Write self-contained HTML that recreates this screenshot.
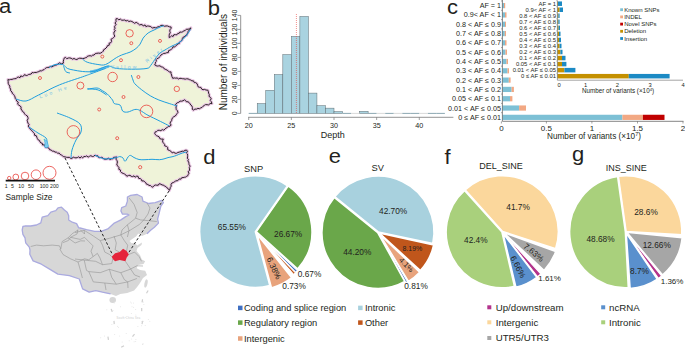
<!DOCTYPE html>
<html><head><meta charset="utf-8"><style>
html,body{margin:0;padding:0;background:#fff;width:685px;height:349px;overflow:hidden}
svg{display:block}
text{font-family:"Liberation Sans",sans-serif}
</style></head><body>
<svg width="685" height="349" viewBox="0 0 685 349">
<rect width="685" height="349" fill="#fff"/>
<polygon points="116.1,18.7 117.5,18.7 118.8,19.8 120.4,19.1 121.7,20.2 123.2,20.2 124.7,20.0 126.0,21.0 127.6,20.5 128.9,21.5 130.4,21.1 131.9,21.5 133.2,22.3 134.5,23.3 136.2,22.4 137.4,22.9 138.4,24.0 139.5,24.9 141.0,24.6 142.3,24.7 143.3,26.0 145.0,24.9 145.9,26.6 147.4,26.0 148.8,26.1 150.2,26.4 151.4,27.0 152.5,28.2 153.9,27.5 155.4,27.8 156.7,27.6 157.9,26.8 159.4,26.7 160.5,25.6 162.0,25.3 163.3,25.5 164.7,26.3 166.0,25.9 167.7,26.0 169.3,26.8 171.1,27.0 171.0,28.5 169.9,29.8 169.8,31.2 170.3,32.8 169.4,34.1 169.2,35.6 169.2,37.6 170.4,36.9 171.5,35.8 173.1,36.5 173.9,34.7 175.4,34.7 176.9,34.8 177.7,33.5 179.2,33.3 179.9,32.0 181.6,32.2 182.9,31.7 183.9,30.8 185.2,30.6 186.4,29.2 188.1,29.3 189.6,28.7 190.9,27.9 190.3,29.3 189.0,30.2 188.1,31.4 188.0,33.0 186.9,33.8 186.8,35.5 185.1,35.8 184.3,36.8 182.9,37.4 182.3,38.6 182.1,40.2 181.0,41.1 179.8,41.8 179.3,43.5 177.8,43.8 176.9,45.0 175.8,45.9 174.7,46.9 172.9,46.8 172.4,48.4 171.3,49.3 170.1,50.1 168.6,50.6 168.3,52.6 166.7,52.7 165.3,53.3 163.7,53.4 162.4,54.2 161.1,54.8 160.3,56.2 159.3,57.1 158.5,58.2 157.0,58.6 156.1,59.5 156.3,61.4 155.5,62.1 155.3,63.7 154.7,64.9 155.9,65.6 157.2,66.1 158.6,65.9 160.0,65.8 161.1,66.8 162.5,67.1 163.6,67.7 164.4,69.0 165.8,69.5 167.1,70.1 168.2,71.0 169.2,71.9 171.0,71.9 171.0,73.5 171.6,75.0 171.9,76.5 172.8,78.4 174.3,77.9 175.7,78.2 177.1,77.9 178.4,79.0 179.9,78.3 181.2,78.4 182.5,78.7 183.9,78.8 185.2,79.2 186.5,78.8 188.1,78.9 189.3,79.6 190.7,80.0 191.9,80.9 193.4,80.8 194.3,82.6 195.6,82.6 197.1,83.7 197.6,85.3 198.1,86.8 199.4,87.3 200.9,87.4 201.7,89.1 203.0,89.8 204.6,89.4 205.9,90.0 207.9,90.2 208.4,91.7 208.6,93.2 209.3,94.6 209.0,96.4 210.5,97.4 211.2,98.7 210.2,100.5 211.3,101.7 212.0,103.6 210.1,103.5 208.7,104.9 207.1,104.7 205.5,104.6 204.3,105.4 203.1,106.2 202.1,107.4 200.7,107.9 199.5,108.7 197.9,108.4 196.5,109.1 194.9,109.1 193.3,110.2 192.3,109.1 192.4,107.4 191.9,106.0 190.9,105.0 190.1,103.9 189.2,102.6 188.0,101.8 186.3,101.7 185.5,100.4 184.4,99.8 183.0,100.8 181.5,101.2 180.1,101.1 178.9,102.2 177.2,102.8 175.5,104.3 176.6,105.5 176.0,107.0 176.1,108.3 176.3,109.6 177.5,110.8 177.9,112.5 177.0,113.6 176.2,114.8 175.3,116.0 173.8,116.7 172.6,117.7 171.9,119.1 171.6,120.7 170.5,122.0 170.1,123.4 171.1,125.0 170.1,126.2 168.6,126.4 167.4,127.3 166.1,128.0 165.0,129.1 163.8,130.2 162.2,129.6 160.9,130.7 159.3,130.3 157.8,130.3 156.6,131.6 155.3,131.8 154.7,133.4 155.5,134.8 156.4,135.6 157.8,136.2 159.1,136.8 159.8,138.6 161.2,139.1 163.3,139.1 162.6,140.8 162.8,142.2 163.7,143.3 164.6,144.4 164.7,145.9 166.4,146.4 167.7,147.4 167.7,149.7 169.3,150.4 170.8,151.2 172.2,152.9 173.7,152.3 175.1,153.2 176.5,153.3 177.8,152.5 179.3,152.1 180.8,151.7 182.2,151.2 183.8,151.3 185.0,150.3 186.7,150.2 187.5,151.4 186.4,153.0 187.5,154.1 187.6,155.5 187.6,156.8 187.3,158.2 188.4,159.4 187.8,160.9 188.7,162.1 188.9,163.4 189.1,164.7 190.2,166.1 189.3,167.4 189.5,168.9 189.6,170.4 188.1,171.6 189.0,173.2 188.2,174.6 187.9,175.6 186.7,176.3 185.6,177.1 184.3,177.3 183.1,177.6 181.7,177.7 180.8,179.2 179.3,178.9 178.4,180.1 177.2,180.8 175.6,180.8 174.6,181.9 173.3,182.5 171.8,183.1 171.0,184.5 171.2,186.2 170.3,187.5 170.0,189.0 169.4,190.4 168.5,188.9 167.0,187.9 165.9,186.5 164.6,186.2 163.5,185.0 162.1,185.0 160.9,184.2 159.2,183.7 158.3,185.2 156.8,185.2 155.3,185.0 154.1,185.6 152.7,187.2 151.5,186.6 150.5,185.5 149.0,185.4 147.9,184.5 146.5,184.2 145.8,182.7 144.7,181.9 143.8,180.9 141.9,181.0 141.4,179.4 140.3,178.6 138.7,178.4 138.1,176.4 136.7,176.1 135.2,177.2 134.0,175.8 132.6,176.6 131.2,176.3 130.0,175.3 128.6,175.4 126.9,176.3 125.9,175.0 124.7,174.1 123.2,173.4 121.8,172.8 120.5,171.6 120.5,170.0 118.8,169.3 119.0,167.6 118.1,166.3 116.8,165.1 117.1,163.6 117.4,162.0 117.0,160.6 116.0,159.2 116.4,156.8 115.1,157.3 113.8,157.2 112.7,158.9 111.4,158.9 110.0,159.5 108.4,158.2 106.8,159.1 105.2,159.3 103.6,158.8 102.6,157.6 101.3,157.3 99.8,157.7 98.5,157.4 97.7,155.7 96.3,155.8 95.0,155.1 93.7,156.3 92.4,156.5 90.8,155.7 89.5,156.3 88.2,157.1 86.6,155.9 85.3,156.6 84.0,156.5 82.7,157.8 81.3,156.6 80.1,158.1 78.6,156.8 77.3,157.6 76.0,157.9 74.7,157.7 73.3,157.2 71.9,158.4 70.5,158.3 69.3,157.3 67.9,157.4 66.5,157.3 65.2,156.9 63.7,156.7 62.5,155.8 61.4,155.0 60.1,154.4 59.2,153.1 57.6,153.2 56.5,152.2 55.0,152.1 53.9,151.2 52.3,151.1 51.1,150.0 49.6,149.7 48.8,148.0 47.4,147.6 45.7,147.4 45.0,146.2 44.5,144.8 42.6,145.0 42.3,143.3 40.9,142.9 40.0,142.0 39.6,140.5 38.1,139.8 37.4,138.6 36.8,137.2 36.4,135.8 34.6,135.3 34.5,133.7 33.6,132.7 32.8,131.6 31.7,130.7 30.9,129.6 29.8,128.7 29.2,127.5 28.3,126.1 29.1,124.5 28.0,123.2 27.6,121.8 27.2,120.4 28.1,118.7 27.9,117.3 27.2,115.8 25.9,115.2 25.0,114.3 24.2,113.2 23.6,112.0 22.4,111.4 21.9,110.1 20.9,109.0 21.1,107.2 20.3,106.0 18.9,105.2 17.6,104.1 18.3,102.2 16.7,101.1 16.3,99.6 15.3,98.5 15.0,96.9 14.4,95.6 13.6,94.4 12.4,93.5 12.0,92.0 10.7,90.8 10.6,89.1 9.8,87.7 9.8,86.1 8.8,84.7 8.2,83.3 8.2,81.6 7.9,79.6 9.4,79.8 10.7,79.4 12.1,79.4 13.4,78.9 14.8,78.7 16.2,78.6 17.2,77.4 18.4,77.0 20.0,77.7 20.8,75.9 22.4,76.5 23.6,76.0 24.5,74.6 26.2,75.5 27.4,75.3 28.6,74.5 29.9,74.3 31.2,74.0 32.1,72.5 33.5,72.8 34.8,72.4 36.2,72.5 37.5,72.0 38.8,71.6 40.0,70.8 41.5,70.9 42.8,70.1 44.1,69.6 45.2,68.5 46.4,67.7 47.8,67.4 49.2,67.3 50.3,66.4 52.0,67.0 53.0,66.1 54.3,65.7 55.6,65.2 56.9,64.8 58.0,64.0 59.5,62.8 61.4,63.8 63.4,63.1 63.3,61.3 63.7,59.7 64.0,58.3 65.5,57.4 66.8,58.7 68.3,58.0 69.8,57.9 71.2,58.3 72.5,59.2 74.0,58.5 75.5,59.3 76.9,59.5 78.3,58.6 79.7,58.2 81.1,58.3 82.6,58.5 84.1,58.4 85.3,57.8 86.6,57.5 87.5,56.2 88.8,55.9 90.1,55.7 91.6,56.1 92.7,55.1 94.0,55.1 95.2,53.7 96.8,53.3 98.4,53.1 100.1,53.3 102.2,52.2 103.2,51.2 103.7,49.7 105.0,49.0 106.0,48.0 107.0,47.0 107.4,45.7 109.3,45.1 109.1,43.2 110.9,42.7 111.6,41.4 111.0,39.3 112.4,38.5 113.7,37.5 114.8,36.1 114.1,34.7 113.9,33.3 114.0,32.0 115.4,30.9 114.3,29.4 115.1,28.2 114.5,26.8 115.3,25.5 116.1,24.3 114.9,22.9 116.2,21.7 115.9,20.3" fill="#eff3d9" stroke="#e9c6e3" stroke-width="3" stroke-linejoin="round"/>
<polygon points="116.1,18.7 117.5,18.7 118.8,19.8 120.4,19.1 121.7,20.2 123.2,20.2 124.7,20.0 126.0,21.0 127.6,20.5 128.9,21.5 130.4,21.1 131.9,21.5 133.2,22.3 134.5,23.3 136.2,22.4 137.4,22.9 138.4,24.0 139.5,24.9 141.0,24.6 142.3,24.7 143.3,26.0 145.0,24.9 145.9,26.6 147.4,26.0 148.8,26.1 150.2,26.4 151.4,27.0 152.5,28.2 153.9,27.5 155.4,27.8 156.7,27.6 157.9,26.8 159.4,26.7 160.5,25.6 162.0,25.3 163.3,25.5 164.7,26.3 166.0,25.9 167.7,26.0 169.3,26.8 171.1,27.0 171.0,28.5 169.9,29.8 169.8,31.2 170.3,32.8 169.4,34.1 169.2,35.6 169.2,37.6 170.4,36.9 171.5,35.8 173.1,36.5 173.9,34.7 175.4,34.7 176.9,34.8 177.7,33.5 179.2,33.3 179.9,32.0 181.6,32.2 182.9,31.7 183.9,30.8 185.2,30.6 186.4,29.2 188.1,29.3 189.6,28.7 190.9,27.9 190.3,29.3 189.0,30.2 188.1,31.4 188.0,33.0 186.9,33.8 186.8,35.5 185.1,35.8 184.3,36.8 182.9,37.4 182.3,38.6 182.1,40.2 181.0,41.1 179.8,41.8 179.3,43.5 177.8,43.8 176.9,45.0 175.8,45.9 174.7,46.9 172.9,46.8 172.4,48.4 171.3,49.3 170.1,50.1 168.6,50.6 168.3,52.6 166.7,52.7 165.3,53.3 163.7,53.4 162.4,54.2 161.1,54.8 160.3,56.2 159.3,57.1 158.5,58.2 157.0,58.6 156.1,59.5 156.3,61.4 155.5,62.1 155.3,63.7 154.7,64.9 155.9,65.6 157.2,66.1 158.6,65.9 160.0,65.8 161.1,66.8 162.5,67.1 163.6,67.7 164.4,69.0 165.8,69.5 167.1,70.1 168.2,71.0 169.2,71.9 171.0,71.9 171.0,73.5 171.6,75.0 171.9,76.5 172.8,78.4 174.3,77.9 175.7,78.2 177.1,77.9 178.4,79.0 179.9,78.3 181.2,78.4 182.5,78.7 183.9,78.8 185.2,79.2 186.5,78.8 188.1,78.9 189.3,79.6 190.7,80.0 191.9,80.9 193.4,80.8 194.3,82.6 195.6,82.6 197.1,83.7 197.6,85.3 198.1,86.8 199.4,87.3 200.9,87.4 201.7,89.1 203.0,89.8 204.6,89.4 205.9,90.0 207.9,90.2 208.4,91.7 208.6,93.2 209.3,94.6 209.0,96.4 210.5,97.4 211.2,98.7 210.2,100.5 211.3,101.7 212.0,103.6 210.1,103.5 208.7,104.9 207.1,104.7 205.5,104.6 204.3,105.4 203.1,106.2 202.1,107.4 200.7,107.9 199.5,108.7 197.9,108.4 196.5,109.1 194.9,109.1 193.3,110.2 192.3,109.1 192.4,107.4 191.9,106.0 190.9,105.0 190.1,103.9 189.2,102.6 188.0,101.8 186.3,101.7 185.5,100.4 184.4,99.8 183.0,100.8 181.5,101.2 180.1,101.1 178.9,102.2 177.2,102.8 175.5,104.3 176.6,105.5 176.0,107.0 176.1,108.3 176.3,109.6 177.5,110.8 177.9,112.5 177.0,113.6 176.2,114.8 175.3,116.0 173.8,116.7 172.6,117.7 171.9,119.1 171.6,120.7 170.5,122.0 170.1,123.4 171.1,125.0 170.1,126.2 168.6,126.4 167.4,127.3 166.1,128.0 165.0,129.1 163.8,130.2 162.2,129.6 160.9,130.7 159.3,130.3 157.8,130.3 156.6,131.6 155.3,131.8 154.7,133.4 155.5,134.8 156.4,135.6 157.8,136.2 159.1,136.8 159.8,138.6 161.2,139.1 163.3,139.1 162.6,140.8 162.8,142.2 163.7,143.3 164.6,144.4 164.7,145.9 166.4,146.4 167.7,147.4 167.7,149.7 169.3,150.4 170.8,151.2 172.2,152.9 173.7,152.3 175.1,153.2 176.5,153.3 177.8,152.5 179.3,152.1 180.8,151.7 182.2,151.2 183.8,151.3 185.0,150.3 186.7,150.2 187.5,151.4 186.4,153.0 187.5,154.1 187.6,155.5 187.6,156.8 187.3,158.2 188.4,159.4 187.8,160.9 188.7,162.1 188.9,163.4 189.1,164.7 190.2,166.1 189.3,167.4 189.5,168.9 189.6,170.4 188.1,171.6 189.0,173.2 188.2,174.6 187.9,175.6 186.7,176.3 185.6,177.1 184.3,177.3 183.1,177.6 181.7,177.7 180.8,179.2 179.3,178.9 178.4,180.1 177.2,180.8 175.6,180.8 174.6,181.9 173.3,182.5 171.8,183.1 171.0,184.5 171.2,186.2 170.3,187.5 170.0,189.0 169.4,190.4 168.5,188.9 167.0,187.9 165.9,186.5 164.6,186.2 163.5,185.0 162.1,185.0 160.9,184.2 159.2,183.7 158.3,185.2 156.8,185.2 155.3,185.0 154.1,185.6 152.7,187.2 151.5,186.6 150.5,185.5 149.0,185.4 147.9,184.5 146.5,184.2 145.8,182.7 144.7,181.9 143.8,180.9 141.9,181.0 141.4,179.4 140.3,178.6 138.7,178.4 138.1,176.4 136.7,176.1 135.2,177.2 134.0,175.8 132.6,176.6 131.2,176.3 130.0,175.3 128.6,175.4 126.9,176.3 125.9,175.0 124.7,174.1 123.2,173.4 121.8,172.8 120.5,171.6 120.5,170.0 118.8,169.3 119.0,167.6 118.1,166.3 116.8,165.1 117.1,163.6 117.4,162.0 117.0,160.6 116.0,159.2 116.4,156.8 115.1,157.3 113.8,157.2 112.7,158.9 111.4,158.9 110.0,159.5 108.4,158.2 106.8,159.1 105.2,159.3 103.6,158.8 102.6,157.6 101.3,157.3 99.8,157.7 98.5,157.4 97.7,155.7 96.3,155.8 95.0,155.1 93.7,156.3 92.4,156.5 90.8,155.7 89.5,156.3 88.2,157.1 86.6,155.9 85.3,156.6 84.0,156.5 82.7,157.8 81.3,156.6 80.1,158.1 78.6,156.8 77.3,157.6 76.0,157.9 74.7,157.7 73.3,157.2 71.9,158.4 70.5,158.3 69.3,157.3 67.9,157.4 66.5,157.3 65.2,156.9 63.7,156.7 62.5,155.8 61.4,155.0 60.1,154.4 59.2,153.1 57.6,153.2 56.5,152.2 55.0,152.1 53.9,151.2 52.3,151.1 51.1,150.0 49.6,149.7 48.8,148.0 47.4,147.6 45.7,147.4 45.0,146.2 44.5,144.8 42.6,145.0 42.3,143.3 40.9,142.9 40.0,142.0 39.6,140.5 38.1,139.8 37.4,138.6 36.8,137.2 36.4,135.8 34.6,135.3 34.5,133.7 33.6,132.7 32.8,131.6 31.7,130.7 30.9,129.6 29.8,128.7 29.2,127.5 28.3,126.1 29.1,124.5 28.0,123.2 27.6,121.8 27.2,120.4 28.1,118.7 27.9,117.3 27.2,115.8 25.9,115.2 25.0,114.3 24.2,113.2 23.6,112.0 22.4,111.4 21.9,110.1 20.9,109.0 21.1,107.2 20.3,106.0 18.9,105.2 17.6,104.1 18.3,102.2 16.7,101.1 16.3,99.6 15.3,98.5 15.0,96.9 14.4,95.6 13.6,94.4 12.4,93.5 12.0,92.0 10.7,90.8 10.6,89.1 9.8,87.7 9.8,86.1 8.8,84.7 8.2,83.3 8.2,81.6 7.9,79.6 9.4,79.8 10.7,79.4 12.1,79.4 13.4,78.9 14.8,78.7 16.2,78.6 17.2,77.4 18.4,77.0 20.0,77.7 20.8,75.9 22.4,76.5 23.6,76.0 24.5,74.6 26.2,75.5 27.4,75.3 28.6,74.5 29.9,74.3 31.2,74.0 32.1,72.5 33.5,72.8 34.8,72.4 36.2,72.5 37.5,72.0 38.8,71.6 40.0,70.8 41.5,70.9 42.8,70.1 44.1,69.6 45.2,68.5 46.4,67.7 47.8,67.4 49.2,67.3 50.3,66.4 52.0,67.0 53.0,66.1 54.3,65.7 55.6,65.2 56.9,64.8 58.0,64.0 59.5,62.8 61.4,63.8 63.4,63.1 63.3,61.3 63.7,59.7 64.0,58.3 65.5,57.4 66.8,58.7 68.3,58.0 69.8,57.9 71.2,58.3 72.5,59.2 74.0,58.5 75.5,59.3 76.9,59.5 78.3,58.6 79.7,58.2 81.1,58.3 82.6,58.5 84.1,58.4 85.3,57.8 86.6,57.5 87.5,56.2 88.8,55.9 90.1,55.7 91.6,56.1 92.7,55.1 94.0,55.1 95.2,53.7 96.8,53.3 98.4,53.1 100.1,53.3 102.2,52.2 103.2,51.2 103.7,49.7 105.0,49.0 106.0,48.0 107.0,47.0 107.4,45.7 109.3,45.1 109.1,43.2 110.9,42.7 111.6,41.4 111.0,39.3 112.4,38.5 113.7,37.5 114.8,36.1 114.1,34.7 113.9,33.3 114.0,32.0 115.4,30.9 114.3,29.4 115.1,28.2 114.5,26.8 115.3,25.5 116.1,24.3 114.9,22.9 116.2,21.7 115.9,20.3" fill="none" stroke="#2b2427" stroke-width="1.0" stroke-linejoin="miter"/>
<path d="M90,71.6 C96,71.2 102,68.2 109,66.3" fill="none" stroke="#5db8e6" stroke-width="2.4"/>
<path d="M49.0,67.6 C50.0,67.1 52.7,65.1 55.0,64.6 C57.3,64.1 60.7,64.0 62.7,64.6 C64.8,65.2 65.5,67.5 67.3,68.4 C69.1,69.3 70.9,69.5 73.4,70.0 C76.0,70.5 79.3,71.2 82.6,71.5 C85.9,71.8 90.2,72.0 93.3,71.5 C96.4,71.0 98.5,69.3 101.0,68.4 C103.5,67.5 106.0,66.0 108.6,66.0 C111.1,66.0 112.5,67.9 116.3,68.4 C120.1,68.9 126.5,69.2 131.6,69.2 C136.7,69.2 143.8,69.1 147.0,68.4 C150.2,67.8 149.3,67.1 150.8,65.3 C152.3,63.5 154.5,59.8 156.0,57.7 C157.5,55.7 158.5,54.3 160.0,53.0 C161.5,51.7 163.2,51.1 165.0,50.0 C166.8,48.9 168.5,47.8 171.0,46.5 C173.5,45.2 177.5,43.8 180.0,42.0 C182.5,40.2 184.2,38.1 186.0,36.0 C187.8,33.9 189.8,30.6 190.5,29.5" fill="none" stroke="#1f9fdf" stroke-width="1.0" stroke-linejoin="round"/>
<path d="M82.6,59.2 C83.4,59.7 84.7,61.3 87.2,62.2 C89.8,63.1 94.8,64.1 97.9,64.5 C101.0,64.9 102.5,65.6 105.6,64.5 C108.7,63.4 113.4,59.4 116.3,57.7 C119.2,56.0 120.7,55.4 123.0,54.5 C125.3,53.6 127.9,53.1 130.1,52.1 C132.3,51.1 134.3,49.8 136.0,48.5 C137.7,47.2 138.9,45.8 140.1,44.1 C141.3,42.4 141.8,40.0 143.1,38.1 C144.4,36.2 146.3,34.4 148.1,33.0 C149.9,31.6 152.1,31.0 154.1,30.0 C156.1,29.0 158.4,27.7 160.1,27.0 C161.8,26.3 163.3,26.0 164.0,25.8" fill="none" stroke="#1f9fdf" stroke-width="1.0" stroke-linejoin="round"/>
<path d="M16.0,99.0 C17.7,99.3 22.2,101.7 26.0,101.0 C29.8,100.3 33.0,97.7 38.6,95.0 C44.2,92.3 52.3,87.8 59.6,84.8 C66.9,81.8 77.0,78.8 82.6,76.8 C88.2,74.8 89.5,74.3 93.3,72.9 C97.1,71.5 103.5,69.2 105.6,68.4" fill="none" stroke="#1f9fdf" stroke-width="1.0" stroke-linejoin="round"/>
<path d="M63.6,66.2 C64.0,67.1 64.7,70.5 65.8,71.6 C66.9,72.7 69.3,72.8 70.0,73.0" fill="none" stroke="#1f9fdf" stroke-width="1.0" stroke-linejoin="round"/>
<path d="M87.3,88.8 C89.1,89.0 94.8,88.9 98.0,89.9 C101.2,90.9 105.2,94.2 106.6,95.0" fill="none" stroke="#1f9fdf" stroke-width="1.0" stroke-linejoin="round"/>
<path d="M131.3,75.0 C131.6,75.8 132.4,78.5 133.0,80.0 C133.6,81.5 133.4,82.1 134.8,83.7 C136.2,85.3 139.1,87.8 141.7,89.8 C144.3,91.8 147.4,94.1 150.3,95.8 C153.2,97.5 155.8,98.7 158.9,100.0 C162.1,101.3 166.2,102.5 169.2,103.5 C172.2,104.5 175.7,105.6 177.0,106.0" fill="none" stroke="#1f9fdf" stroke-width="1.0" stroke-linejoin="round"/>
<path d="M87.6,89.2 C89.2,89.0 94.6,87.8 97.0,88.0 C99.4,88.2 100.5,89.6 102.2,90.6 C103.9,91.6 105.6,92.4 107.3,94.0 C109.0,95.6 111.3,98.4 112.5,100.0 C113.7,101.6 112.9,102.6 114.2,103.5 C115.5,104.4 118.8,103.9 120.2,105.2 C121.6,106.5 121.5,110.1 122.8,111.2 C124.1,112.3 126.0,112.3 128.0,112.0 C130.0,111.7 132.8,109.8 134.8,109.5 C136.8,109.2 138.0,109.5 140.0,110.4 C142.0,111.3 144.6,113.4 146.9,114.7 C149.2,116.0 151.4,117.0 153.7,118.1 C156.0,119.2 158.0,120.2 160.6,121.5 C163.2,122.8 167.8,125.1 169.2,125.8" fill="none" stroke="#1f9fdf" stroke-width="1.0" stroke-linejoin="round"/>
<path d="M57.0,113.0 C59.2,113.8 66.2,116.2 70.0,118.0 C73.8,119.8 78.2,121.7 80.0,124.0 C81.8,126.3 81.7,129.3 81.0,132.0 C80.3,134.7 77.5,137.0 76.0,140.0 C74.5,143.0 72.8,147.0 72.0,150.0 C71.2,153.0 71.2,156.7 71.0,158.0" fill="none" stroke="#1f9fdf" stroke-width="1.0" stroke-linejoin="round"/>
<path d="M29.0,127.0 C30.5,128.0 35.2,131.2 38.0,133.0 C40.8,134.8 44.5,136.3 46.0,138.0 C47.5,139.7 46.7,141.5 47.0,143.0 C47.3,144.5 47.8,146.3 48.0,147.0" fill="none" stroke="#1f9fdf" stroke-width="1.0" stroke-linejoin="round"/>
<path d="M95.0,155.4 C96.4,155.9 101.1,158.1 103.6,158.7 C106.1,159.2 107.8,158.9 110.0,158.7 C112.2,158.5 114.8,157.9 116.5,157.6 C118.2,157.2 118.9,156.5 120.0,156.6 C121.1,156.7 122.2,157.3 123.0,158.0 C123.8,158.7 124.0,160.6 124.5,161.0 C125.0,161.4 125.4,161.2 126.0,160.5 C126.6,159.8 127.3,157.8 128.0,157.0 C128.7,156.2 129.4,155.3 130.4,155.4 C131.4,155.5 132.6,156.8 134.0,157.5 C135.4,158.2 137.2,159.1 139.0,159.5 C140.8,159.9 142.8,159.7 145.0,159.7 C147.2,159.7 149.6,159.3 152.0,159.3 C154.4,159.3 157.4,159.8 159.4,159.7 C161.4,159.6 162.6,159.2 164.0,158.9 C165.4,158.6 166.7,157.9 168.0,157.6 C169.3,157.2 170.6,157.2 172.0,156.8 C173.4,156.4 175.1,156.0 176.6,155.4 C178.1,154.8 179.3,154.1 181.0,153.5 C182.7,152.9 185.7,152.2 186.6,152.0" fill="none" stroke="#1f9fdf" stroke-width="1.0" stroke-linejoin="round"/>
<text x="111" y="68.5" font-family="Liberation Sans, sans-serif" font-size="5" letter-spacing="2.2" fill="#7cc4e6">Yellow</text>
<text transform="translate(147,63) rotate(-38)" font-family="Liberation Sans, sans-serif" font-size="5" letter-spacing="2.2" fill="#7cc4e6">River</text>
<text transform="translate(40,98.5) rotate(-19)" font-family="Liberation Sans, sans-serif" font-size="5" letter-spacing="2.5" fill="#7cc4e6">Luo He</text>
<path d="M44,139 L47,141 L48.5,146 L47,148 L44.5,147 L45,143 Z" fill="#7fcbee" stroke="#22a0dd" stroke-width="0.5"/>
<circle cx="129.6" cy="33.3" r="3.7" fill="none" stroke="#e8413c" stroke-width="0.8"/>
<circle cx="131.3" cy="43.2" r="1.5" fill="none" stroke="#e8413c" stroke-width="0.8"/>
<circle cx="160" cy="40.9" r="1.5" fill="none" stroke="#e8413c" stroke-width="0.8"/>
<circle cx="102.3" cy="56.6" r="1.5" fill="none" stroke="#e8413c" stroke-width="0.8"/>
<circle cx="121" cy="60.2" r="1.5" fill="none" stroke="#e8413c" stroke-width="0.8"/>
<circle cx="112.6" cy="77" r="4.7" fill="none" stroke="#e8413c" stroke-width="0.8"/>
<circle cx="80.4" cy="85.6" r="3.5" fill="none" stroke="#e8413c" stroke-width="0.8"/>
<circle cx="138.4" cy="77" r="1.5" fill="none" stroke="#e8413c" stroke-width="0.8"/>
<circle cx="40" cy="78" r="1.5" fill="none" stroke="#e8413c" stroke-width="0.8"/>
<circle cx="123.5" cy="97" r="1.5" fill="none" stroke="#e8413c" stroke-width="0.8"/>
<circle cx="99.2" cy="109.5" r="1.5" fill="none" stroke="#e8413c" stroke-width="0.8"/>
<circle cx="146.5" cy="111.4" r="6.3" fill="none" stroke="#e8413c" stroke-width="0.8"/>
<circle cx="73.4" cy="131.9" r="6.3" fill="none" stroke="#e8413c" stroke-width="0.8"/>
<circle cx="117.2" cy="138.2" r="1.5" fill="none" stroke="#e8413c" stroke-width="0.8"/>
<circle cx="140.2" cy="167.2" r="1.6" fill="none" stroke="#e8413c" stroke-width="0.8"/>
<circle cx="176.8" cy="88.9" r="2.7" fill="none" stroke="#e8413c" stroke-width="0.8"/>
<circle cx="9.2" cy="178.1" r="1.7" fill="none" stroke="#e8413c" stroke-width="0.8"/>
<circle cx="15.8" cy="177" r="2.9" fill="none" stroke="#e8413c" stroke-width="0.8"/>
<circle cx="25" cy="176" r="3.8" fill="none" stroke="#e8413c" stroke-width="0.8"/>
<circle cx="36" cy="174.7" r="4.8" fill="none" stroke="#e8413c" stroke-width="0.8"/>
<circle cx="49.5" cy="172.8" r="6.5" fill="none" stroke="#e8413c" stroke-width="0.8"/>
<line x1="5.7" y1="180.6" x2="55" y2="180.6" stroke="#111" stroke-width="1.7"/>
<text x="6.3" y="188" font-family="Liberation Sans, sans-serif" font-size="5.2" text-anchor="middle" fill="#231f20">1</text>
<text x="12.4" y="188" font-family="Liberation Sans, sans-serif" font-size="5.2" text-anchor="middle" fill="#231f20">5</text>
<text x="21.2" y="188" font-family="Liberation Sans, sans-serif" font-size="5.2" text-anchor="middle" fill="#231f20">10</text>
<text x="31" y="188" font-family="Liberation Sans, sans-serif" font-size="5.2" text-anchor="middle" fill="#231f20">50</text>
<text x="44" y="188" font-family="Liberation Sans, sans-serif" font-size="5.2" text-anchor="middle" fill="#231f20">100</text>
<text x="54.4" y="188" font-family="Liberation Sans, sans-serif" font-size="5.2" text-anchor="middle" fill="#231f20">200</text>
<text x="5.5" y="200" font-family="Liberation Sans, sans-serif" font-size="8.4" fill="#231f20">Sample Size</text>
<polygon points="22.2,230.0 22.9,226.5 25.7,225.8 30.7,226.0 36.5,225.0 40.8,222.9 42.2,217.2 47.9,215.7 50.8,212.2 55.8,210.7 58.0,207.9 61.5,207.2 64.4,210.0 67.2,212.2 68.7,215.7 68.7,220.0 72.3,222.2 76.6,223.6 78.7,227.9 80.0,228.0 86.5,229.7 94.7,231.3 101.2,231.3 107.8,228.9 114.3,223.1 120.9,219.9 125.8,216.6 129.0,215.0 127.4,214.2 122.5,214.2 120.9,210.9 121.7,207.6 125.8,206.0 127.4,201.1 127.4,197.0 130.7,195.4 137.2,194.5 142.1,197.0 142.9,201.1 148.7,203.5 155.2,202.7 161.7,200.3 163.4,202.7 160.9,206.0 159.3,212.5 157.6,219.1 158.5,223.1 154.4,227.2 150.3,230.5 147.0,233.8 142.0,236.0 138.3,233.6 136.0,236.5 132.6,238.8 129.5,241.0 131.5,243.3 134.9,242.8 137.2,245.6 139.5,243.9 142.0,242.5 141.5,245.0 137.5,248.0 136.5,251.0 140.1,255.3 141.8,259.6 145.2,261.3 143.5,263.9 138.0,265.0 136.6,268.2 140.1,269.9 145.2,270.8 147.0,275.1 143.0,278.0 140.0,283.0 137.5,286.5 134.1,290.5 127.2,293.1 120.3,294.0 116.0,296.0 110.6,293.9 102.4,292.2 95.8,290.6 89.2,292.2 82.6,288.9 79.3,279.0 69.4,275.7 57.9,274.1 49.6,269.1 41.4,264.2 33.1,260.9 29.8,254.3 30.0,250.0 29.3,247.2 25.7,242.9 25.0,237.9 22.9,234.4" fill="#d7d7d7"/>
<polyline points="110.6,293.9 102.4,292.2 95.8,290.6 89.2,292.2 82.6,288.9 79.3,279.0 69.4,275.7 57.9,274.1 49.6,269.1 41.4,264.2 33.1,260.9 29.8,254.3 30.0,250.0 29.3,247.2 25.7,242.9 25.0,237.9 22.9,234.4 22.2,230.0 22.9,226.5 25.7,225.8 30.7,226.0 36.5,225.0 40.8,222.9 42.2,217.2 47.9,215.7 50.8,212.2 55.8,210.7 58.0,207.9 61.5,207.2 64.4,210.0 67.2,212.2 68.7,215.7 68.7,220.0 72.3,222.2 76.6,223.6 78.7,227.9 80.0,228.0 86.5,229.7 94.7,231.3 101.2,231.3 107.8,228.9 114.3,223.1 120.9,219.9 125.8,216.6 129.0,215.0 127.4,214.2 122.5,214.2 120.9,210.9 121.7,207.6 125.8,206.0 127.4,201.1 127.4,197.0 130.7,195.4 137.2,194.5 142.1,197.0 142.9,201.1 148.7,203.5 155.2,202.7 161.7,200.3 163.4,202.7 160.9,206.0 159.3,212.5 157.6,219.1 158.5,223.1 154.4,227.2 150.3,230.5 147.0,233.8" fill="none" stroke="#aaaadf" stroke-width="1.3" stroke-linejoin="round"/>
<rect x="141.7" y="299.2" width="1.2" height="3.2" fill="#cfcfcf" transform="rotate(8,142.3,300.8)"/>
<rect x="141.1" y="308.0" width="1.2" height="3.2" fill="#cfcfcf" transform="rotate(0,141.7,309.6)"/>
<rect x="141.7" y="320.9" width="1.2" height="3.2" fill="#cfcfcf" transform="rotate(10,142.3,322.5)"/>
<rect x="132.9" y="333.7" width="1.2" height="3.2" fill="#cfcfcf" transform="rotate(40,133.5,335.3)"/>
<rect x="122.0" y="344.9" width="1.2" height="3.2" fill="#cfcfcf" transform="rotate(60,122.6,346.5)"/>
<rect x="107.6" y="336.7" width="1.2" height="3.2" fill="#cfcfcf" transform="rotate(-10,108.2,338.3)"/>
<rect x="113.5" y="320.9" width="1.2" height="3.2" fill="#cfcfcf" transform="rotate(-5,114.1,322.5)"/>
<rect x="111.1" y="308.8" width="1.2" height="3.2" fill="#cfcfcf" transform="rotate(-20,111.7,310.4)"/>
<rect x="146.7" y="290.3" width="1.2" height="3.2" fill="#cfcfcf" transform="rotate(30,147.3,291.9)"/>
<text x="128.5" y="318.5" font-family="Liberation Sans, sans-serif" font-size="2.6" text-anchor="middle" fill="#c8c8c8" letter-spacing="0.3">South China Sea</text>
<polyline points="30.7,246.5 36.5,245.1 43.6,245.8 52.2,245.1 59.4,245.8 60.8,248.7" fill="none" stroke="#8e8e8e" stroke-width="0.55"/>
<polyline points="60.8,248.7 62.2,241.5 68.0,237.9 72.3,233.6 78.0,230.0" fill="none" stroke="#8e8e8e" stroke-width="0.55"/>
<polyline points="68.0,237.9 75.1,243.0 80.8,240.8 85.0,241.0" fill="none" stroke="#8e8e8e" stroke-width="0.55"/>
<polyline points="60.8,248.7 59.8,249.0 63.0,254.5 70.5,258.8 78.0,262.0 84.5,258.8 88.8,259.8 93.1,256.6 97.4,253.4" fill="none" stroke="#8e8e8e" stroke-width="0.55"/>
<polyline points="63.0,242.6 68.4,240.5 70.5,237.3 77.0,234.0 78.0,229.7" fill="none" stroke="#8e8e8e" stroke-width="0.55"/>
<polyline points="70.5,237.3 80.2,239.4 84.5,237.3 88.8,241.6 93.1,245.9 91.0,251.2 93.1,256.6" fill="none" stroke="#8e8e8e" stroke-width="0.55"/>
<polyline points="80.2,229.7 84.5,234.0 84.2,230.3" fill="none" stroke="#8e8e8e" stroke-width="0.55"/>
<polyline points="78.0,262.0 80.2,269.5 82.4,278.0" fill="none" stroke="#8e8e8e" stroke-width="0.55"/>
<polyline points="75.0,232.6 84.2,230.3 93.3,236.0 100.2,240.6 109.4,238.3 120.8,234.9 130.0,230.3 139.2,224.6 143.8,220.0 148.0,214.0 150.0,208.0 147.0,203.0" fill="none" stroke="#8e8e8e" stroke-width="0.55"/>
<polyline points="100.2,240.6 102.5,245.2 104.8,252.1 109.4,254.4 111.7,256.7" fill="none" stroke="#8e8e8e" stroke-width="0.55"/>
<polyline points="114.0,236.0 116.3,243.0 115.1,249.8 119.7,252.1" fill="none" stroke="#8e8e8e" stroke-width="0.55"/>
<polyline points="120.8,234.9 124.3,240.6 127.7,245.2 126.6,250.9" fill="none" stroke="#8e8e8e" stroke-width="0.55"/>
<polyline points="128.9,254.4 134.6,252.1 139.2,256.7 141.5,261.3" fill="none" stroke="#8e8e8e" stroke-width="0.55"/>
<polyline points="75.0,259.0 84.2,260.1 95.6,261.3 102.5,264.7 111.7,263.6 112.8,259.0" fill="none" stroke="#8e8e8e" stroke-width="0.55"/>
<polyline points="97.4,253.4 100.0,258.0 102.5,264.7" fill="none" stroke="#8e8e8e" stroke-width="0.55"/>
<polyline points="100.2,272.7 109.4,269.3 120.8,272.7 130.0,269.3 136.9,265.8 143.0,266.0" fill="none" stroke="#8e8e8e" stroke-width="0.55"/>
<polyline points="125.4,261.3 130.0,268.1 134.6,275.0 140.0,277.0" fill="none" stroke="#8e8e8e" stroke-width="0.55"/>
<polyline points="93.3,281.9 104.8,283.0 116.3,284.2 127.7,281.9 136.9,278.5" fill="none" stroke="#8e8e8e" stroke-width="0.55"/>
<polyline points="88.8,271.6 93.3,281.9" fill="none" stroke="#8e8e8e" stroke-width="0.55"/>
<polyline points="109.4,269.3 111.7,277.3 116.3,284.2" fill="none" stroke="#8e8e8e" stroke-width="0.55"/>
<polyline points="120.8,272.7 124.3,279.6 127.7,281.9" fill="none" stroke="#8e8e8e" stroke-width="0.55"/>
<polyline points="84.2,260.1 86.5,270.4 88.8,271.6 100.2,272.7" fill="none" stroke="#8e8e8e" stroke-width="0.55"/>
<polyline points="104.8,283.0 106.0,290.0" fill="none" stroke="#8e8e8e" stroke-width="0.55"/>
<polyline points="127.7,281.9 128.0,288.0" fill="none" stroke="#8e8e8e" stroke-width="0.55"/>
<polyline points="129.0,197.8 134.0,204.3 137.2,212.5 135.6,218.2 140.5,219.9 148.7,220.7 156.8,221.5" fill="none" stroke="#8e8e8e" stroke-width="0.55"/>
<polyline points="135.6,218.2 131.0,222.0 127.4,224.8 129.0,230.5 127.4,237.0" fill="none" stroke="#8e8e8e" stroke-width="0.55"/>
<polyline points="120.8,234.9 122.0,230.0 127.4,224.8" fill="none" stroke="#8e8e8e" stroke-width="0.55"/>
<polygon points="111.7,256.7 115.1,253.2 119.7,252.1 123.1,248.7 126.6,250.9 128.9,254.4 126.6,257.8 125.4,261.3 119.7,260.1 115.1,261.3 112.8,259.0" fill="#e5243b"/>
<ellipse cx="112.7" cy="300" rx="3.3" ry="2.9" fill="#d7d7d7"/>
<ellipse cx="146" cy="283.5" rx="1.5" ry="4.2" fill="#d7d7d7" transform="rotate(12,146,283.5)"/>
<circle cx="111.9" cy="324.5" r="0.5" fill="#e4e4e4"/>
<circle cx="118.5" cy="327.2" r="0.5" fill="#e4e4e4"/>
<circle cx="131.3" cy="302.9" r="0.5" fill="#e4e4e4"/>
<circle cx="100.7" cy="337.7" r="0.5" fill="#e4e4e4"/>
<circle cx="113.0" cy="310.5" r="0.5" fill="#e4e4e4"/>
<circle cx="149.8" cy="321.2" r="0.5" fill="#e4e4e4"/>
<circle cx="141.8" cy="321.4" r="0.5" fill="#e4e4e4"/>
<circle cx="132.0" cy="306.8" r="0.5" fill="#e4e4e4"/>
<circle cx="131.7" cy="339.1" r="0.5" fill="#e4e4e4"/>
<circle cx="126.2" cy="333.4" r="0.5" fill="#e4e4e4"/>
<circle cx="133.6" cy="302.9" r="0.5" fill="#e4e4e4"/>
<circle cx="137.9" cy="326.6" r="0.5" fill="#e4e4e4"/>
<circle cx="115.1" cy="301.4" r="0.5" fill="#e4e4e4"/>
<circle cx="143.3" cy="321.3" r="0.5" fill="#e4e4e4"/>
<circle cx="135.9" cy="339.5" r="0.5" fill="#e4e4e4"/>
<circle cx="135.7" cy="341.4" r="0.5" fill="#e4e4e4"/>
<circle cx="119.7" cy="336.0" r="0.5" fill="#e4e4e4"/>
<circle cx="122.2" cy="342.1" r="0.5" fill="#e4e4e4"/>
<circle cx="143.9" cy="304.4" r="0.5" fill="#e4e4e4"/>
<circle cx="106.8" cy="309.8" r="0.5" fill="#e4e4e4"/>
<circle cx="148.3" cy="319.6" r="0.5" fill="#e4e4e4"/>
<circle cx="131.3" cy="313.5" r="0.5" fill="#e4e4e4"/>
<circle cx="125.4" cy="317.4" r="0.5" fill="#e4e4e4"/>
<circle cx="117.5" cy="326.3" r="0.5" fill="#e4e4e4"/>
<circle cx="129.2" cy="340.7" r="0.5" fill="#e4e4e4"/>
<circle cx="134.1" cy="341.8" r="0.5" fill="#e4e4e4"/>
<circle cx="142.8" cy="344.6" r="0.5" fill="#e4e4e4"/>
<circle cx="133.6" cy="307.3" r="0.5" fill="#e4e4e4"/>
<circle cx="143.0" cy="343.4" r="0.5" fill="#e4e4e4"/>
<circle cx="145.2" cy="325.6" r="0.5" fill="#e4e4e4"/>
<circle cx="135.7" cy="309.5" r="0.5" fill="#e4e4e4"/>
<circle cx="141.6" cy="325.8" r="0.5" fill="#e4e4e4"/>
<circle cx="114.2" cy="302.9" r="0.5" fill="#e4e4e4"/>
<circle cx="142.7" cy="344.5" r="0.5" fill="#e4e4e4"/>
<circle cx="104.4" cy="336.0" r="0.5" fill="#e4e4e4"/>
<circle cx="120.5" cy="306.8" r="0.5" fill="#e4e4e4"/>
<circle cx="114.7" cy="334.6" r="0.5" fill="#e4e4e4"/>
<circle cx="143.6" cy="302.0" r="0.5" fill="#e4e4e4"/>
<circle cx="130.7" cy="302.0" r="0.5" fill="#e4e4e4"/>
<circle cx="135.9" cy="314.9" r="0.5" fill="#e4e4e4"/>
<line x1="65" y1="158" x2="112.3" y2="254.3" stroke="#222" stroke-width="1.0" stroke-dasharray="2.6 2.1"/>
<line x1="169" y1="191" x2="128.7" y2="252.6" stroke="#222" stroke-width="1.0" stroke-dasharray="2.6 2.1"/>
<rect x="257.23" y="103.60" width="8.53" height="9.80" fill="#a9d3e0" stroke="#5d6b70" stroke-width="0.5"/>
<rect x="265.76" y="90.30" width="8.53" height="23.10" fill="#a9d3e0" stroke="#5d6b70" stroke-width="0.5"/>
<rect x="274.29" y="74.55" width="8.53" height="38.85" fill="#a9d3e0" stroke="#5d6b70" stroke-width="0.5"/>
<rect x="282.82" y="54.60" width="8.53" height="58.80" fill="#a9d3e0" stroke="#5d6b70" stroke-width="0.5"/>
<rect x="291.35" y="36.40" width="8.53" height="77.00" fill="#a9d3e0" stroke="#5d6b70" stroke-width="0.5"/>
<rect x="299.88" y="16.45" width="8.53" height="96.95" fill="#a9d3e0" stroke="#5d6b70" stroke-width="0.5"/>
<rect x="308.41" y="93.10" width="8.53" height="20.30" fill="#a9d3e0" stroke="#5d6b70" stroke-width="0.5"/>
<rect x="316.94" y="105.70" width="8.53" height="7.70" fill="#a9d3e0" stroke="#5d6b70" stroke-width="0.5"/>
<rect x="325.47" y="108.15" width="8.53" height="5.25" fill="#a9d3e0" stroke="#5d6b70" stroke-width="0.5"/>
<rect x="334.00" y="111.65" width="8.53" height="1.75" fill="#a9d3e0" stroke="#5d6b70" stroke-width="0.5"/>
<rect x="359.59" y="111.30" width="8.53" height="2.10" fill="#a9d3e0" stroke="#5d6b70" stroke-width="0.5"/>
<line x1="248.70" y1="113.4" x2="257.23" y2="113.4" stroke="#5a8391" stroke-width="0.7"/>
<line x1="342.53" y1="113.4" x2="351.06" y2="113.4" stroke="#5a8391" stroke-width="0.7"/>
<line x1="368.12" y1="113.4" x2="376.65" y2="113.4" stroke="#5a8391" stroke-width="0.7"/>
<line x1="385.18" y1="113.4" x2="393.71" y2="113.4" stroke="#5a8391" stroke-width="0.7"/>
<line x1="402.24" y1="113.4" x2="410.77" y2="113.4" stroke="#5a8391" stroke-width="0.7"/>
<line x1="410.77" y1="113.4" x2="419.30" y2="113.4" stroke="#5a8391" stroke-width="0.7"/>
<line x1="427.83" y1="113.4" x2="436.36" y2="113.4" stroke="#5a8391" stroke-width="0.7"/>
<line x1="436.36" y1="113.4" x2="444.89" y2="113.4" stroke="#5a8391" stroke-width="0.7"/>
<line x1="351.06" y1="113.4" x2="359.59" y2="113.4" stroke="#c9c9c9" stroke-width="0.7"/>
<line x1="376.65" y1="113.4" x2="385.18" y2="113.4" stroke="#c9c9c9" stroke-width="0.7"/>
<line x1="393.71" y1="113.4" x2="402.24" y2="113.4" stroke="#c9c9c9" stroke-width="0.7"/>
<line x1="419.30" y1="113.4" x2="427.83" y2="113.4" stroke="#c9c9c9" stroke-width="0.7"/>
<line x1="296.4" y1="14" x2="296.4" y2="113.4" stroke="#e8413c" stroke-width="0.6" stroke-dasharray="1 1"/>
<line x1="240.7" y1="15.4" x2="240.7" y2="113.4" stroke="#777" stroke-width="0.8"/>
<line x1="237.5" y1="113.4" x2="240.7" y2="113.4" stroke="#777" stroke-width="0.7"/>
<text transform="translate(236.5,113.4) rotate(-90)" font-family="Liberation Sans, sans-serif" font-size="7" text-anchor="middle" fill="#231f20">0</text>
<line x1="237.5" y1="99.4" x2="240.7" y2="99.4" stroke="#777" stroke-width="0.7"/>
<text transform="translate(236.5,99.4) rotate(-90)" font-family="Liberation Sans, sans-serif" font-size="7" text-anchor="middle" fill="#231f20">20</text>
<line x1="237.5" y1="85.4" x2="240.7" y2="85.4" stroke="#777" stroke-width="0.7"/>
<text transform="translate(236.5,85.4) rotate(-90)" font-family="Liberation Sans, sans-serif" font-size="7" text-anchor="middle" fill="#231f20">40</text>
<line x1="237.5" y1="71.4" x2="240.7" y2="71.4" stroke="#777" stroke-width="0.7"/>
<text transform="translate(236.5,71.4) rotate(-90)" font-family="Liberation Sans, sans-serif" font-size="7" text-anchor="middle" fill="#231f20">60</text>
<line x1="237.5" y1="57.400000000000006" x2="240.7" y2="57.400000000000006" stroke="#777" stroke-width="0.7"/>
<text transform="translate(236.5,57.400000000000006) rotate(-90)" font-family="Liberation Sans, sans-serif" font-size="7" text-anchor="middle" fill="#231f20">80</text>
<line x1="237.5" y1="43.400000000000006" x2="240.7" y2="43.400000000000006" stroke="#777" stroke-width="0.7"/>
<text transform="translate(236.5,43.400000000000006) rotate(-90)" font-family="Liberation Sans, sans-serif" font-size="7" text-anchor="middle" fill="#231f20">100</text>
<line x1="237.5" y1="29.400000000000006" x2="240.7" y2="29.400000000000006" stroke="#777" stroke-width="0.7"/>
<text transform="translate(236.5,29.400000000000006) rotate(-90)" font-family="Liberation Sans, sans-serif" font-size="7" text-anchor="middle" fill="#231f20">120</text>
<line x1="237.5" y1="15.400000000000006" x2="240.7" y2="15.400000000000006" stroke="#777" stroke-width="0.7"/>
<text transform="translate(236.5,15.400000000000006) rotate(-90)" font-family="Liberation Sans, sans-serif" font-size="7" text-anchor="middle" fill="#231f20">140</text>
<line x1="248.2" y1="117.3" x2="453.4" y2="117.3" stroke="#777" stroke-width="0.8"/>
<line x1="248.70" y1="117.3" x2="248.70" y2="120" stroke="#777" stroke-width="0.7"/>
<text x="248.70" y="128" font-family="Liberation Sans, sans-serif" font-size="7.2" text-anchor="middle" fill="#231f20">20</text>
<line x1="291.35" y1="117.3" x2="291.35" y2="120" stroke="#777" stroke-width="0.7"/>
<text x="291.35" y="128" font-family="Liberation Sans, sans-serif" font-size="7.2" text-anchor="middle" fill="#231f20">25</text>
<line x1="334.00" y1="117.3" x2="334.00" y2="120" stroke="#777" stroke-width="0.7"/>
<text x="334.00" y="128" font-family="Liberation Sans, sans-serif" font-size="7.2" text-anchor="middle" fill="#231f20">30</text>
<line x1="376.65" y1="117.3" x2="376.65" y2="120" stroke="#777" stroke-width="0.7"/>
<text x="376.65" y="128" font-family="Liberation Sans, sans-serif" font-size="7.2" text-anchor="middle" fill="#231f20">35</text>
<line x1="419.30" y1="117.3" x2="419.30" y2="120" stroke="#777" stroke-width="0.7"/>
<text x="419.30" y="128" font-family="Liberation Sans, sans-serif" font-size="7.2" text-anchor="middle" fill="#231f20">40</text>
<text x="332.8" y="138" font-family="Liberation Sans, sans-serif" font-size="9" text-anchor="middle" fill="#231f20">Depth</text>
<text transform="translate(226.8,62.2) rotate(-90)" font-family="Liberation Sans, sans-serif" font-size="10" text-anchor="middle" fill="#231f20">Number of individuals</text>
<text x="501" y="8.18" font-family="Liberation Sans, sans-serif" font-size="7.2" text-anchor="end" fill="#231f20">AF = 1</text>
<rect x="502.4" y="3.03" width="1.60" height="5.2" fill="#7dc0d5"/>
<rect x="504" y="3.03" width="1.20" height="5.2" fill="#f2a883"/>
<line x1="501" y1="0.98" x2="502.4" y2="0.98" stroke="#555" stroke-width="0.5"/>
<text x="501" y="17.49" font-family="Liberation Sans, sans-serif" font-size="7.2" text-anchor="end" fill="#231f20">0.9&lt; AF &lt; 1</text>
<rect x="502.4" y="12.34" width="2.60" height="5.2" fill="#7dc0d5"/>
<rect x="505" y="12.34" width="1.50" height="5.2" fill="#f2a883"/>
<line x1="501" y1="10.29" x2="502.4" y2="10.29" stroke="#555" stroke-width="0.5"/>
<text x="501" y="26.80" font-family="Liberation Sans, sans-serif" font-size="7.2" text-anchor="end" fill="#231f20">0.8 &lt; AF ≤ 0.9</text>
<rect x="502.4" y="21.65" width="2.60" height="5.2" fill="#7dc0d5"/>
<rect x="505" y="21.65" width="1.00" height="5.2" fill="#f2a883"/>
<line x1="501" y1="19.60" x2="502.4" y2="19.60" stroke="#555" stroke-width="0.5"/>
<text x="501" y="36.11" font-family="Liberation Sans, sans-serif" font-size="7.2" text-anchor="end" fill="#231f20">0.7 &lt; AF ≤ 0.8</text>
<rect x="502.4" y="30.96" width="2.40" height="5.2" fill="#7dc0d5"/>
<rect x="504.8" y="30.96" width="1.20" height="5.2" fill="#f2a883"/>
<line x1="501" y1="28.91" x2="502.4" y2="28.91" stroke="#555" stroke-width="0.5"/>
<text x="501" y="45.42" font-family="Liberation Sans, sans-serif" font-size="7.2" text-anchor="end" fill="#231f20">0.6 &lt; AF ≤ 0.7</text>
<rect x="502.4" y="40.27" width="2.60" height="5.2" fill="#7dc0d5"/>
<rect x="505" y="40.27" width="1.50" height="5.2" fill="#f2a883"/>
<line x1="501" y1="38.22" x2="502.4" y2="38.22" stroke="#555" stroke-width="0.5"/>
<text x="501" y="54.73" font-family="Liberation Sans, sans-serif" font-size="7.2" text-anchor="end" fill="#231f20">0.5 &lt; AF ≤ 0.6</text>
<rect x="502.4" y="49.58" width="3.10" height="5.2" fill="#7dc0d5"/>
<rect x="505.5" y="49.58" width="1.50" height="5.2" fill="#f2a883"/>
<line x1="501" y1="47.53" x2="502.4" y2="47.53" stroke="#555" stroke-width="0.5"/>
<text x="501" y="64.04" font-family="Liberation Sans, sans-serif" font-size="7.2" text-anchor="end" fill="#231f20">0.4 &lt; AF ≤ 0.5</text>
<rect x="502.4" y="58.89" width="4.10" height="5.2" fill="#7dc0d5"/>
<rect x="506.5" y="58.89" width="1.50" height="5.2" fill="#f2a883"/>
<line x1="501" y1="56.84" x2="502.4" y2="56.84" stroke="#555" stroke-width="0.5"/>
<text x="501" y="73.35" font-family="Liberation Sans, sans-serif" font-size="7.2" text-anchor="end" fill="#231f20">0.3 &lt; AF ≤ 0.4</text>
<rect x="502.4" y="68.20" width="5.10" height="5.2" fill="#7dc0d5"/>
<rect x="507.5" y="68.20" width="1.50" height="5.2" fill="#f2a883"/>
<line x1="501" y1="66.15" x2="502.4" y2="66.15" stroke="#555" stroke-width="0.5"/>
<text x="501" y="82.66" font-family="Liberation Sans, sans-serif" font-size="7.2" text-anchor="end" fill="#231f20">0.2 &lt; AF ≤ 0.3</text>
<rect x="502.4" y="77.51" width="6.40" height="5.2" fill="#7dc0d5"/>
<rect x="508.8" y="77.51" width="1.80" height="5.2" fill="#f2a883"/>
<line x1="501" y1="75.46" x2="502.4" y2="75.46" stroke="#555" stroke-width="0.5"/>
<text x="501" y="91.97" font-family="Liberation Sans, sans-serif" font-size="7.2" text-anchor="end" fill="#231f20">0.1 &lt; AF ≤ 0.2</text>
<rect x="502.4" y="86.82" width="9.20" height="5.2" fill="#7dc0d5"/>
<rect x="511.6" y="86.82" width="2.30" height="5.2" fill="#f2a883"/>
<line x1="501" y1="84.77" x2="502.4" y2="84.77" stroke="#555" stroke-width="0.5"/>
<text x="501" y="101.28" font-family="Liberation Sans, sans-serif" font-size="7.2" text-anchor="end" fill="#231f20">0.05 &lt; AF ≤ 0.1</text>
<rect x="502.4" y="96.13" width="7.60" height="5.2" fill="#7dc0d5"/>
<rect x="510" y="96.13" width="2.40" height="5.2" fill="#f2a883"/>
<line x1="501" y1="94.08" x2="502.4" y2="94.08" stroke="#555" stroke-width="0.5"/>
<text x="501" y="110.59" font-family="Liberation Sans, sans-serif" font-size="7.2" text-anchor="end" fill="#231f20">0.01 &lt; AF ≤ 0.05</text>
<rect x="502.4" y="105.44" width="16.70" height="5.2" fill="#7dc0d5"/>
<rect x="519.1" y="105.44" width="6.90" height="5.2" fill="#f2a883"/>
<line x1="501" y1="103.39" x2="502.4" y2="103.39" stroke="#555" stroke-width="0.5"/>
<text x="501" y="119.90" font-family="Liberation Sans, sans-serif" font-size="7.2" text-anchor="end" fill="#231f20">0 ≤ AF ≤ 0.01</text>
<rect x="502.4" y="114.75" width="120.00" height="5.2" fill="#7dc0d5"/>
<rect x="622.4" y="114.75" width="20.50" height="5.2" fill="#f2a883"/>
<rect x="642.9" y="114.75" width="21.60" height="5.2" fill="#c00000"/>
<line x1="501" y1="112.70" x2="502.4" y2="112.70" stroke="#555" stroke-width="0.5"/>
<line x1="502.4" y1="0" x2="502.4" y2="121.3" stroke="#666" stroke-width="0.8"/>
<line x1="502.4" y1="121.3" x2="683.5" y2="121.3" stroke="#666" stroke-width="0.8"/>
<line x1="501.4" y1="121.3" x2="501.4" y2="123.5" stroke="#666" stroke-width="0.6"/>
<text x="501.4" y="130.5" font-family="Liberation Sans, sans-serif" font-size="8" text-anchor="middle" fill="#231f20">0</text>
<line x1="546.4" y1="121.3" x2="546.4" y2="123.5" stroke="#666" stroke-width="0.6"/>
<text x="546.4" y="130.5" font-family="Liberation Sans, sans-serif" font-size="8" text-anchor="middle" fill="#231f20">0.5</text>
<line x1="591.9" y1="121.3" x2="591.9" y2="123.5" stroke="#666" stroke-width="0.6"/>
<text x="591.9" y="130.5" font-family="Liberation Sans, sans-serif" font-size="8" text-anchor="middle" fill="#231f20">1</text>
<line x1="637.5" y1="121.3" x2="637.5" y2="123.5" stroke="#666" stroke-width="0.6"/>
<text x="637.5" y="130.5" font-family="Liberation Sans, sans-serif" font-size="8" text-anchor="middle" fill="#231f20">1.5</text>
<line x1="683" y1="121.3" x2="683" y2="123.5" stroke="#666" stroke-width="0.6"/>
<text x="683" y="130.5" font-family="Liberation Sans, sans-serif" font-size="8" text-anchor="middle" fill="#231f20">2</text>
<text x="594" y="139.3" font-family="Liberation Sans, sans-serif" font-size="8.2" text-anchor="middle" fill="#231f20">Number of variants (×10<tspan font-size="5.5" dy="-3">7</tspan><tspan dy="3">)</tspan></text>
<text x="556" y="5.75" font-family="Liberation Sans, sans-serif" font-size="5.9" text-anchor="end" fill="#231f20">AF = 1</text>
<rect x="557.4" y="1.45" width="0.60" height="4.5" fill="#c49000"/>
<rect x="558" y="1.45" width="4.00" height="4.5" fill="#1c8ac4"/>
<text x="556" y="11.79" font-family="Liberation Sans, sans-serif" font-size="5.9" text-anchor="end" fill="#231f20">0.9&lt; AF &lt; 1</text>
<rect x="557.4" y="7.49" width="2.20" height="4.5" fill="#c49000"/>
<rect x="559.6" y="7.49" width="3.40" height="4.5" fill="#1c8ac4"/>
<text x="556" y="17.83" font-family="Liberation Sans, sans-serif" font-size="5.9" text-anchor="end" fill="#231f20">0.8 &lt; AF ≤ 0.9</text>
<rect x="557.4" y="13.53" width="1.00" height="4.5" fill="#c49000"/>
<rect x="558.4" y="13.53" width="1.20" height="4.5" fill="#1c8ac4"/>
<text x="556" y="23.87" font-family="Liberation Sans, sans-serif" font-size="5.9" text-anchor="end" fill="#231f20">0.7 &lt; AF ≤ 0.8</text>
<rect x="557.4" y="19.57" width="1.00" height="4.5" fill="#c49000"/>
<rect x="558.4" y="19.57" width="1.20" height="4.5" fill="#1c8ac4"/>
<text x="556" y="29.91" font-family="Liberation Sans, sans-serif" font-size="5.9" text-anchor="end" fill="#231f20">0.6 &lt; AF ≤ 0.7</text>
<rect x="557.4" y="25.61" width="1.20" height="4.5" fill="#c49000"/>
<rect x="558.6" y="25.61" width="1.40" height="4.5" fill="#1c8ac4"/>
<text x="556" y="35.95" font-family="Liberation Sans, sans-serif" font-size="5.9" text-anchor="end" fill="#231f20">0.5 &lt; AF ≤ 0.6</text>
<rect x="557.4" y="31.65" width="1.60" height="4.5" fill="#c49000"/>
<rect x="559" y="31.65" width="1.50" height="4.5" fill="#1c8ac4"/>
<text x="556" y="41.99" font-family="Liberation Sans, sans-serif" font-size="5.9" text-anchor="end" fill="#231f20">0.4 &lt; AF ≤ 0.5</text>
<rect x="557.4" y="37.69" width="1.60" height="4.5" fill="#c49000"/>
<rect x="559" y="37.69" width="2.00" height="4.5" fill="#1c8ac4"/>
<text x="556" y="48.03" font-family="Liberation Sans, sans-serif" font-size="5.9" text-anchor="end" fill="#231f20">0.3 &lt; AF ≤ 0.4</text>
<rect x="557.4" y="43.73" width="2.20" height="4.5" fill="#c49000"/>
<rect x="559.6" y="43.73" width="1.90" height="4.5" fill="#1c8ac4"/>
<text x="556" y="54.07" font-family="Liberation Sans, sans-serif" font-size="5.9" text-anchor="end" fill="#231f20">0.2 &lt; AF ≤ 0.3</text>
<rect x="557.4" y="49.77" width="3.00" height="4.5" fill="#c49000"/>
<rect x="560.4" y="49.77" width="2.10" height="4.5" fill="#1c8ac4"/>
<text x="556" y="60.11" font-family="Liberation Sans, sans-serif" font-size="5.9" text-anchor="end" fill="#231f20">0.1 &lt; AF ≤ 0.2</text>
<rect x="557.4" y="55.81" width="4.60" height="4.5" fill="#c49000"/>
<rect x="562" y="55.81" width="3.50" height="4.5" fill="#1c8ac4"/>
<text x="556" y="66.15" font-family="Liberation Sans, sans-serif" font-size="5.9" text-anchor="end" fill="#231f20">0.05 &lt; AF ≤ 0.1</text>
<rect x="557.4" y="61.85" width="4.60" height="4.5" fill="#c49000"/>
<rect x="562" y="61.85" width="4.40" height="4.5" fill="#1c8ac4"/>
<text x="556" y="72.19" font-family="Liberation Sans, sans-serif" font-size="5.9" text-anchor="end" fill="#231f20">0.01 &lt; AF ≤ 0.05</text>
<rect x="557.4" y="67.89" width="7.00" height="4.5" fill="#c49000"/>
<rect x="564.4" y="67.89" width="11.00" height="4.5" fill="#1c8ac4"/>
<text x="556" y="78.23" font-family="Liberation Sans, sans-serif" font-size="5.9" text-anchor="end" fill="#231f20">0 ≤ AF ≤ 0.01</text>
<rect x="557.4" y="73.93" width="71.40" height="4.5" fill="#c49000"/>
<rect x="628.8" y="73.93" width="40.80" height="4.5" fill="#1c8ac4"/>
<line x1="557.4" y1="0.5" x2="557.4" y2="80.2" stroke="#666" stroke-width="0.6"/>
<line x1="557.4" y1="80.2" x2="683" y2="80.2" stroke="#666" stroke-width="0.6"/>
<text x="559" y="86.5" font-family="Liberation Sans, sans-serif" font-size="5.8" text-anchor="middle" fill="#231f20">0</text>
<text x="585.6" y="86.5" font-family="Liberation Sans, sans-serif" font-size="5.8" text-anchor="middle" fill="#231f20">1</text>
<text x="617.4" y="86.5" font-family="Liberation Sans, sans-serif" font-size="5.8" text-anchor="middle" fill="#231f20">2</text>
<text x="650" y="86.5" font-family="Liberation Sans, sans-serif" font-size="5.8" text-anchor="middle" fill="#231f20">3</text>
<text x="683" y="86.5" font-family="Liberation Sans, sans-serif" font-size="5.8" text-anchor="middle" fill="#231f20">4</text>
<text x="618" y="92.7" font-family="Liberation Sans, sans-serif" font-size="6.3" text-anchor="middle" fill="#231f20">Number of variants (×10<tspan font-size="4.2" dy="-2.2">4</tspan><tspan dy="2.2">)</tspan></text>
<line x1="556.2" y1="0.68" x2="557.4" y2="0.68" stroke="#666" stroke-width="0.4"/>
<line x1="556.2" y1="6.72" x2="557.4" y2="6.72" stroke="#666" stroke-width="0.4"/>
<line x1="556.2" y1="12.76" x2="557.4" y2="12.76" stroke="#666" stroke-width="0.4"/>
<line x1="556.2" y1="18.80" x2="557.4" y2="18.80" stroke="#666" stroke-width="0.4"/>
<line x1="556.2" y1="24.84" x2="557.4" y2="24.84" stroke="#666" stroke-width="0.4"/>
<line x1="556.2" y1="30.88" x2="557.4" y2="30.88" stroke="#666" stroke-width="0.4"/>
<line x1="556.2" y1="36.92" x2="557.4" y2="36.92" stroke="#666" stroke-width="0.4"/>
<line x1="556.2" y1="42.96" x2="557.4" y2="42.96" stroke="#666" stroke-width="0.4"/>
<line x1="556.2" y1="49.00" x2="557.4" y2="49.00" stroke="#666" stroke-width="0.4"/>
<line x1="556.2" y1="55.04" x2="557.4" y2="55.04" stroke="#666" stroke-width="0.4"/>
<line x1="556.2" y1="61.08" x2="557.4" y2="61.08" stroke="#666" stroke-width="0.4"/>
<line x1="556.2" y1="67.12" x2="557.4" y2="67.12" stroke="#666" stroke-width="0.4"/>
<line x1="556.2" y1="73.16" x2="557.4" y2="73.16" stroke="#666" stroke-width="0.4"/>
<rect x="620.2" y="8.30" width="2.8" height="2.8" fill="#7dc0d5"/>
<text x="624.2" y="11.80" font-family="Liberation Sans, sans-serif" font-size="6" fill="#231f20">Known SNPs</text>
<rect x="620.2" y="15.50" width="2.8" height="2.8" fill="#f2a883"/>
<text x="624.2" y="19.00" font-family="Liberation Sans, sans-serif" font-size="6" fill="#231f20">INDEL</text>
<rect x="620.2" y="22.70" width="2.8" height="2.8" fill="#c00000"/>
<text x="624.2" y="26.20" font-family="Liberation Sans, sans-serif" font-size="6" fill="#231f20">Novel SNPs</text>
<rect x="620.2" y="29.90" width="2.8" height="2.8" fill="#c49000"/>
<text x="624.2" y="33.40" font-family="Liberation Sans, sans-serif" font-size="6" fill="#231f20">Deletion</text>
<rect x="620.2" y="37.10" width="2.8" height="2.8" fill="#1c8ac4"/>
<text x="624.2" y="40.60" font-family="Liberation Sans, sans-serif" font-size="6" fill="#231f20">Insertion</text>
<path d="M256.10,231.67 L288.22,185.79 A56,56 0 0 1 297.71,269.14 Z" fill="#6aa74a" stroke="#fff" stroke-width="1.8" stroke-linejoin="round"/>
<path d="M256.52,232.40 L297.47,270.59 A56,56 0 0 1 295.77,272.34 Z" fill="#3f6fc2" stroke="#fff" stroke-width="1.1" stroke-linejoin="round"/>
<path d="M256.61,232.58 L295.52,272.86 A56,56 0 0 1 293.72,274.52 Z" fill="#c0561b" stroke="#fff" stroke-width="1.1" stroke-linejoin="round"/>
<path d="M256.93,233.93 L291.79,277.76 A56,56 0 0 1 271.42,288.02 Z" fill="#e8a37c" stroke="#fff" stroke-width="1.7" stroke-linejoin="round"/>
<path d="M255.50,231.65 L270.00,285.74 A56,56 0 1 1 287.62,185.78 Z" fill="#a8d1de" stroke="#fff" stroke-width="1.8" stroke-linejoin="round"/>
<path d="M378.13,232.03 L334.61,196.79 A56,56 0 0 1 432.91,243.67 Z" fill="#a8d1de" stroke="#fff" stroke-width="1.8" stroke-linejoin="round"/>
<path d="M379.06,232.85 L433.74,244.97 A56,56 0 0 1 420.35,270.69 Z" fill="#c0561b" stroke="#fff" stroke-width="1.7" stroke-linejoin="round"/>
<path d="M379.13,233.70 L419.75,272.25 A56,56 0 0 1 408.39,281.45 Z" fill="#e8a37c" stroke="#fff" stroke-width="1.7" stroke-linejoin="round"/>
<path d="M378.74,233.60 L407.59,281.60 A56,56 0 0 1 405.47,282.82 Z" fill="#3f6fc2" stroke="#fff" stroke-width="1.1" stroke-linejoin="round"/>
<path d="M377.77,232.49 L404.92,281.47 A56,56 0 0 1 334.25,197.25 Z" fill="#6aa74a" stroke="#fff" stroke-width="1.8" stroke-linejoin="round"/>
<path d="M502.46,231.55 L464.99,189.93 A56,56 0 0 1 555.72,248.85 Z" fill="#fbd79c" stroke="#fff" stroke-width="1.8" stroke-linejoin="round"/>
<path d="M503.15,232.32 L555.78,251.48 A56,56 0 0 1 544.11,270.51 Z" fill="#a6a6a6" stroke="#fff" stroke-width="1.7" stroke-linejoin="round"/>
<path d="M502.95,232.56 L540.78,273.85 A56,56 0 0 1 537.42,276.69 Z" fill="#b3338c" stroke="#fff" stroke-width="1.1" stroke-linejoin="round"/>
<path d="M502.82,232.88 L536.91,277.31 A56,56 0 0 1 515.89,287.34 Z" fill="#5a90cd" stroke="#fff" stroke-width="1.7" stroke-linejoin="round"/>
<path d="M502.03,231.94 L514.63,286.50 A56,56 0 0 1 464.56,190.32 Z" fill="#a9d07c" stroke="#fff" stroke-width="1.8" stroke-linejoin="round"/>
<path d="M626.00,231.58 L618.21,176.12 A56,56 0 0 1 681.90,235.00 Z" fill="#fbd79c" stroke="#fff" stroke-width="1.8" stroke-linejoin="round"/>
<path d="M626.51,232.17 L682.25,237.54 A56,56 0 0 1 662.50,275.07 Z" fill="#a6a6a6" stroke="#fff" stroke-width="1.7" stroke-linejoin="round"/>
<path d="M626.28,232.44 L661.52,275.96 A56,56 0 0 1 658.40,278.31 Z" fill="#b3338c" stroke="#fff" stroke-width="1.1" stroke-linejoin="round"/>
<path d="M626.13,232.75 L657.44,279.17 A56,56 0 0 1 630.03,288.61 Z" fill="#5a90cd" stroke="#fff" stroke-width="1.7" stroke-linejoin="round"/>
<path d="M625.50,231.83 L628.43,287.75 A56,56 0 0 1 617.71,176.37 Z" fill="#a9d07c" stroke="#fff" stroke-width="1.8" stroke-linejoin="round"/>
<text x="231.9" y="226.6" font-family="Liberation Sans, sans-serif" font-size="8.3" text-anchor="middle" dominant-baseline="central" fill="#231f20">65.55%</text>
<text x="288.1" y="234" font-family="Liberation Sans, sans-serif" font-size="8.3" text-anchor="middle" dominant-baseline="central" fill="#231f20">26.67%</text>
<text transform="translate(274.1,268.1) rotate(65)" font-family="Liberation Sans, sans-serif" font-size="8.3" text-anchor="middle" dominant-baseline="central" fill="#231f20">6.38%</text>
<text x="309.5" y="273.5" font-family="Liberation Sans, sans-serif" font-size="8.3" text-anchor="middle" dominant-baseline="central" fill="#231f20">0.67%</text>
<text x="294.1" y="286.2" font-family="Liberation Sans, sans-serif" font-size="8.3" text-anchor="middle" dominant-baseline="central" fill="#231f20">0.73%</text>
<text x="393.1" y="210.5" font-family="Liberation Sans, sans-serif" font-size="8.3" text-anchor="middle" dominant-baseline="central" fill="#231f20">42.70%</text>
<text x="357.3" y="252.4" font-family="Liberation Sans, sans-serif" font-size="8.3" text-anchor="middle" dominant-baseline="central" fill="#231f20">44.20%</text>
<text x="412.4" y="248.8" font-family="Liberation Sans, sans-serif" font-size="7" text-anchor="middle" dominant-baseline="central" fill="#231f20">8.19%</text>
<text transform="translate(406.3,264.9) rotate(45)" font-family="Liberation Sans, sans-serif" font-size="7.5" text-anchor="middle" dominant-baseline="central" fill="#231f20">4.1%</text>
<text x="416" y="286.4" font-family="Liberation Sans, sans-serif" font-size="8.3" text-anchor="middle" dominant-baseline="central" fill="#231f20">0.81%</text>
<text x="518.1" y="206.9" font-family="Liberation Sans, sans-serif" font-size="8.3" text-anchor="middle" dominant-baseline="central" fill="#231f20">41.7%</text>
<text x="475.8" y="239.8" font-family="Liberation Sans, sans-serif" font-size="8.3" text-anchor="middle" dominant-baseline="central" fill="#231f20">42.4%</text>
<text transform="translate(533.8,252.4) rotate(40)" font-family="Liberation Sans, sans-serif" font-size="8.3" text-anchor="middle" dominant-baseline="central" fill="#231f20">7.63%</text>
<text transform="translate(518.1,266.7) rotate(62)" font-family="Liberation Sans, sans-serif" font-size="8.3" text-anchor="middle" dominant-baseline="central" fill="#231f20">6.66%</text>
<text x="549.6" y="278.2" font-family="Liberation Sans, sans-serif" font-size="8" text-anchor="middle" dominant-baseline="central" fill="#231f20">1.61%</text>
<text x="646" y="212.3" font-family="Liberation Sans, sans-serif" font-size="8.3" text-anchor="middle" dominant-baseline="central" fill="#231f20">28.6%</text>
<text x="600.5" y="239.1" font-family="Liberation Sans, sans-serif" font-size="8.3" text-anchor="middle" dominant-baseline="central" fill="#231f20">48.68%</text>
<text x="656.7" y="245.2" font-family="Liberation Sans, sans-serif" font-size="8.3" text-anchor="middle" dominant-baseline="central" fill="#231f20">12.66%</text>
<text x="639.5" y="271.4" font-family="Liberation Sans, sans-serif" font-size="8.3" text-anchor="middle" dominant-baseline="central" fill="#231f20">8.7%</text>
<text x="672.1" y="281" font-family="Liberation Sans, sans-serif" font-size="8" text-anchor="middle" dominant-baseline="central" fill="#231f20">1.36%</text>
<text x="253.6" y="171.6" font-family="Liberation Sans, sans-serif" font-size="9.3" text-anchor="middle" fill="#231f20">SNP</text>
<text x="377.8" y="171.3" font-family="Liberation Sans, sans-serif" font-size="9.3" text-anchor="middle" fill="#231f20">SV</text>
<text x="501" y="168.5" font-family="Liberation Sans, sans-serif" font-size="9" text-anchor="middle" fill="#231f20">DEL_SINE</text>
<text x="626.2" y="171.4" font-family="Liberation Sans, sans-serif" font-size="9" text-anchor="middle" fill="#231f20">INS_SINE</text>
<rect x="238" y="305.65" width="4.5" height="4.5" fill="#3f6fc2"/>
<text x="243.9" y="311.25" font-family="Liberation Sans, sans-serif" font-size="9.3" fill="#231f20">Coding and splice region</text>
<rect x="358.1" y="305.65" width="4.5" height="4.5" fill="#a8d1de"/>
<text x="364.9" y="311.25" font-family="Liberation Sans, sans-serif" font-size="9.3" fill="#231f20">Intronic</text>
<rect x="238" y="320.35" width="4.5" height="4.5" fill="#6aa74a"/>
<text x="243.9" y="325.95" font-family="Liberation Sans, sans-serif" font-size="9.3" fill="#231f20">Regulatory region</text>
<rect x="358.1" y="320.35" width="4.5" height="4.5" fill="#c0561b"/>
<text x="364.9" y="325.95" font-family="Liberation Sans, sans-serif" font-size="9.3" fill="#231f20">Other</text>
<rect x="238" y="336.25" width="4.5" height="4.5" fill="#e8a37c"/>
<text x="243.9" y="341.85" font-family="Liberation Sans, sans-serif" font-size="9.3" fill="#231f20">Intergenic</text>
<rect x="487.3" y="305.30" width="4" height="4" fill="#b3338c"/>
<text x="495.7" y="310.79" font-family="Liberation Sans, sans-serif" font-size="9.7" fill="#231f20">Up/downstream</text>
<rect x="601.2" y="305.30" width="4" height="4" fill="#5a90cd"/>
<text x="609" y="310.79" font-family="Liberation Sans, sans-serif" font-size="9.7" fill="#231f20">ncRNA</text>
<rect x="487.3" y="320.30" width="4" height="4" fill="#fbd79c"/>
<text x="495.7" y="325.79" font-family="Liberation Sans, sans-serif" font-size="9.7" fill="#231f20">Intergenic</text>
<rect x="601.2" y="320.30" width="4" height="4" fill="#a9d07c"/>
<text x="609" y="325.79" font-family="Liberation Sans, sans-serif" font-size="9.7" fill="#231f20">Intronic</text>
<rect x="487.3" y="336.00" width="4" height="4" fill="#a6a6a6"/>
<text x="495.7" y="341.49" font-family="Liberation Sans, sans-serif" font-size="9.7" fill="#231f20">UTR5/UTR3</text>
<text transform="translate(-1,13.4) scale(1.1,0.97)" font-family="Liberation Sans, sans-serif" font-size="20" fill="#231f20">a</text>
<text transform="translate(207.8,14.5) scale(1.1,0.97)" font-family="Liberation Sans, sans-serif" font-size="20" fill="#231f20">b</text>
<text transform="translate(447,14.200000000000001) scale(1.1,0.97)" font-family="Liberation Sans, sans-serif" font-size="20" fill="#231f20">c</text>
<text transform="translate(203.3,163.9) scale(1.1,0.97)" font-family="Liberation Sans, sans-serif" font-size="20" fill="#231f20">d</text>
<text transform="translate(328.8,162.8) scale(1.1,0.97)" font-family="Liberation Sans, sans-serif" font-size="20" fill="#231f20">e</text>
<text transform="translate(444.5,163.8) scale(1.1,0.97)" font-family="Liberation Sans, sans-serif" font-size="20" fill="#231f20">f</text>
<text transform="translate(572,161.3) scale(1.1,0.97)" font-family="Liberation Sans, sans-serif" font-size="20" fill="#231f20">g</text>
</svg></body></html>
